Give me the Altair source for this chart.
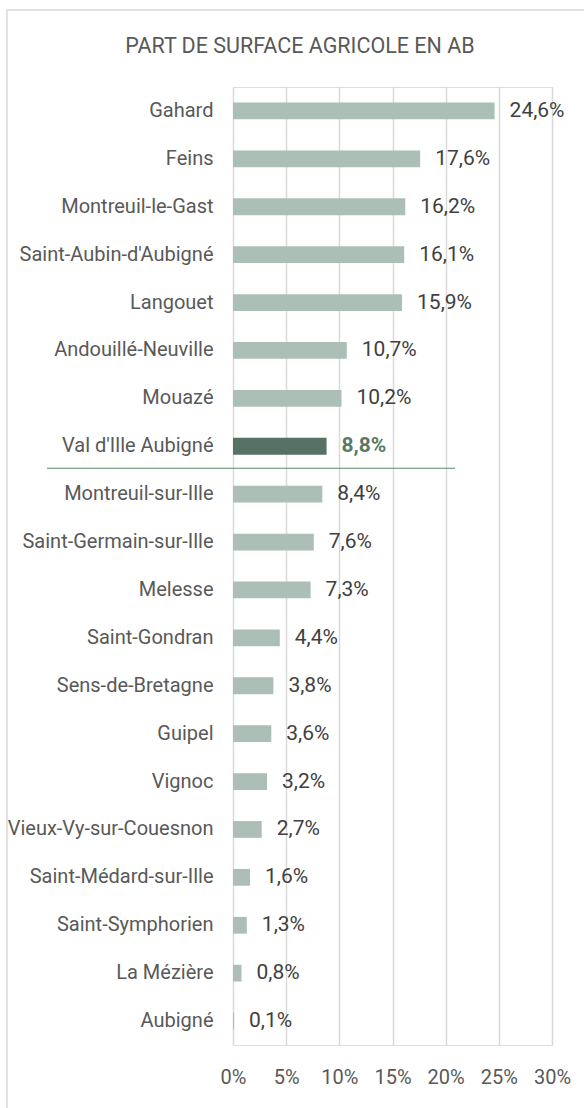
import altair as alt
import pandas as pd

communes = [
    "Gahard", "Feins", "Montreuil-le-Gast", "Saint-Aubin-d'Aubigné", "Langouet",
    "Andouillé-Neuville", "Mouazé", "Val d'Ille Aubigné", "Montreuil-sur-Ille",
    "Saint-Germain-sur-Ille", "Melesse", "Saint-Gondran", "Sens-de-Bretagne",
    "Guipel", "Vignoc", "Vieux-Vy-sur-Couesnon", "Saint-Médard-sur-Ille",
    "Saint-Symphorien", "La Mézière", "Aubigné",
]
values = [24.6, 17.6, 16.2, 16.1, 15.9, 10.7, 10.2, 8.8, 8.4, 7.6, 7.3, 4.4,
          3.8, 3.6, 3.2, 2.7, 1.6, 1.3, 0.8, 0.1]
highlight = "Val d'Ille Aubigné"
x_ticks = [0, 5, 10, 15, 20, 25, 30]
title_text = "PART DE SURFACE AGRICOLE EN AB"

df = pd.DataFrame({"commune": communes, "value": values})
df["label"] = df["value"].map(lambda v: f"{v:.1f}".replace(".", ",") + "%")
df["hl"] = df["commune"] == highlight

FONT = "Roboto"

y_enc = alt.Y("commune:N", sort=communes,
              scale=alt.Scale(paddingInner=0.65, paddingOuter=0.325),
              axis=alt.Axis(title=None, domain=False, ticks=False, grid=False,
                            labelPadding=20, labelFontSize=20, labelFont=FONT,
                            labelColor="#595959", labelLimit=300))
x_scale = alt.Scale(domain=[0, 30], nice=False)

base = alt.Chart(df)

bars = base.mark_bar().encode(
    x=alt.X("value:Q", scale=x_scale,
            axis=alt.Axis(title=None, values=x_ticks, labelExpr="datum.value + '%'",
                          domain=False, ticks=False, grid=True, gridColor="#d9d9d9",
                          gridWidth=1.5, labelPadding=22, labelFontSize=20,
                          labelOverlap=False, labelFlush=False, labelFont=FONT,
                          labelColor="#595959")),
    y=y_enc,
    color=alt.condition(alt.datum.hl, alt.value("#557264"), alt.value("#abbfb6")),
)

labels = alt.Chart(df[~df["hl"]]).mark_text(
    align="left", baseline="middle", dx=15, fontSize=21, font=FONT, color="#404040"
).encode(
    x=alt.X("value:Q", scale=x_scale),
    y=alt.Y("commune:N", sort=communes),
    text="label:N",
)

labels_hl = alt.Chart(df[df["hl"]]).mark_text(
    align="left", baseline="middle", dx=15, fontSize=21, font=FONT,
    color="#577a65", fontWeight="bold"
).encode(
    x=alt.X("value:Q", scale=x_scale),
    y=alt.Y("commune:N", sort=communes),
    text="label:N",
)

sep = alt.Chart(df[df["hl"]]).mark_rule(color="#5a8a66", strokeWidth=1.2, yOffset=22).encode(
    y=alt.Y("commune:N", sort=communes),
    x=alt.value(-186), x2=alt.value(222),
)

frame = alt.Chart(pd.DataFrame({"a": [0]})).mark_rect(
    fillOpacity=0, stroke="#d9d9d9", strokeWidth=1.5
).encode(x=alt.value(-226), x2=alt.value(400), y=alt.value(-77), y2=alt.value(1060))

title = alt.Chart(pd.DataFrame({"t": [title_text]})).mark_text(
    align="center", baseline="middle", fontSize=21.5, font=FONT, color="#595959"
).encode(x=alt.value(67), y=alt.value(-40), text="t:N")

chart = alt.layer(frame, title, bars, labels, labels_hl, sep).properties(
    width=319, height=958,
    autosize=alt.AutoSizeParams(type="none"),
    padding={"left": 233, "top": 87, "right": 32, "bottom": 63},
).configure_view(stroke=None).configure(background="white")

chart.save("out.html", embed_options={"renderer": "svg", "actions": False})
